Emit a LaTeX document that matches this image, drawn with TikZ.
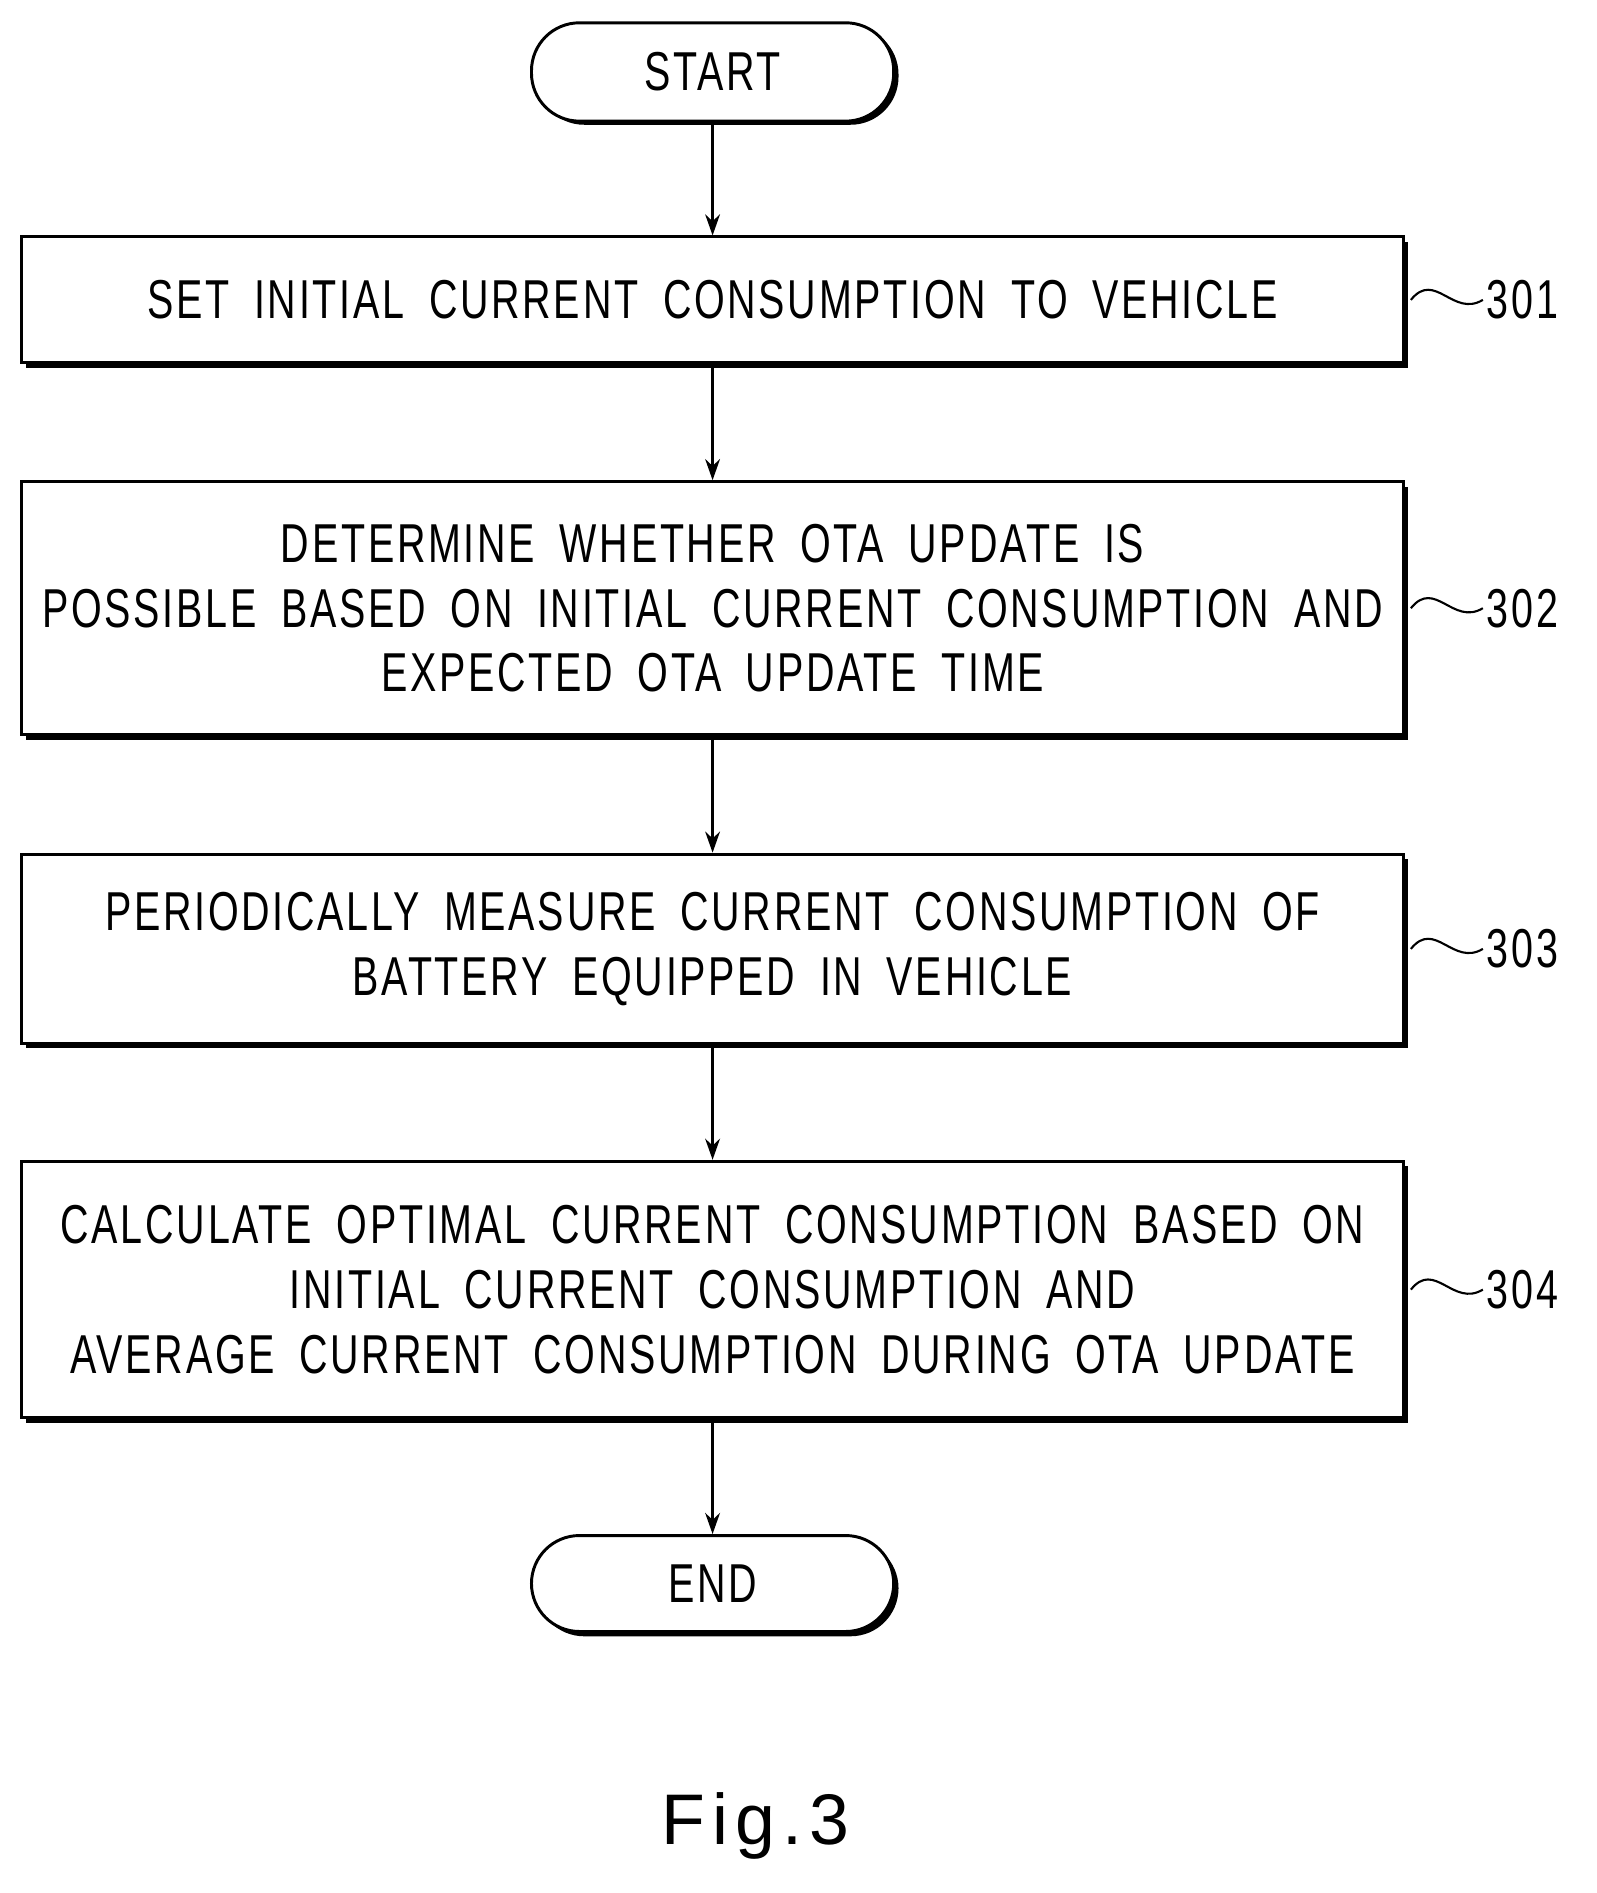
\documentclass[tikz,border=0pt]{standalone}
\usepackage{fontspec}
\setmainfont{Liberation Sans}[FakeStretch=0.72,LetterSpace=5,WordSpace=1.8]
\usetikzlibrary{positioning,arrows.meta}

\begin{document}
\begin{tikzpicture}[x=0.02cm,y=-0.02cm,
    every node/.style={font=\fontsize{26}{30.7}\selectfont},
    stepbox/.style={draw,line width=1.4pt,fill=white,minimum width=23.04cm,
        align=center,inner sep=0pt},
    term/.style={draw,line width=1.4pt,fill=white,rounded corners=0.8cm,
        minimum width=6.04cm,minimum height=1.64cm},
    flow/.style={-{Stealth[length=10pt,width=7pt]},line width=1.3pt},
    tag/.style={line width=1pt}]
% page
\useasboundingbox (0,0) rectangle (1331,1578);
% shadows
\foreach \ya/\yb in {198/303,402/613,712/870,968/1182}
  \fill (22,\ya+4) rectangle (1174,\yb+4);
\fill[rounded corners=0.8cm] (447,22) rectangle (749,104);
\fill[rounded corners=0.8cm] (447,1284) rectangle (749,1364);
% terminals and steps
\node[term] (start) at (594,60) {START};
\node[stepbox,minimum height=2.1cm] (s1) at (594,250) {SET INITIAL CURRENT CONSUMPTION TO VEHICLE};
\node[stepbox,minimum height=4.22cm] (s2) at (594,507) {DETERMINE WHETHER OTA UPDATE IS\\POSSIBLE BASED ON INITIAL CURRENT CONSUMPTION AND\\EXPECTED OTA UPDATE TIME};
\node[stepbox,minimum height=3.16cm] (s3) at (594,791) {PERIODICALLY MEASURE CURRENT CONSUMPTION OF\\BATTERY EQUIPPED IN VEHICLE};
\node[stepbox,minimum height=4.28cm] (s4) at (594,1075) {CALCULATE OPTIMAL CURRENT CONSUMPTION BASED ON\\INITIAL CURRENT CONSUMPTION AND\\AVERAGE CURRENT CONSUMPTION DURING OTA UPDATE};
\node[term,minimum height=1.6cm] (end) at (594,1320) {END};
% connectors
\draw[flow] (start) -- (s1);
\draw[flow] (s1) -- (s2);
\draw[flow] (s2) -- (s3);
\draw[flow] (s3) -- (s4);
\draw[flow] (s4) -- (end);
% reference numerals
\foreach \s/\n in {s1/301,s2/302,s3/303,s4/304}{
  \node[anchor=west,inner sep=0pt] (l\n) at ([xshift=1.36cm]\s.east) {\n};
  \draw[tag] ([xshift=0.1cm]\s.east) .. controls ([xshift=0.5cm,yshift=0.5cm]\s.east) and ([xshift=0.8cm,yshift=-0.3cm]\s.east) .. ([xshift=1.3cm]\s.east);
}
\node[font=\fontsize{34}{40}\selectfont\addfontfeature{FakeStretch=1,LetterSpace=10}] (fig) at (630,1522) {Fig.3};
\end{tikzpicture}
\end{document}
